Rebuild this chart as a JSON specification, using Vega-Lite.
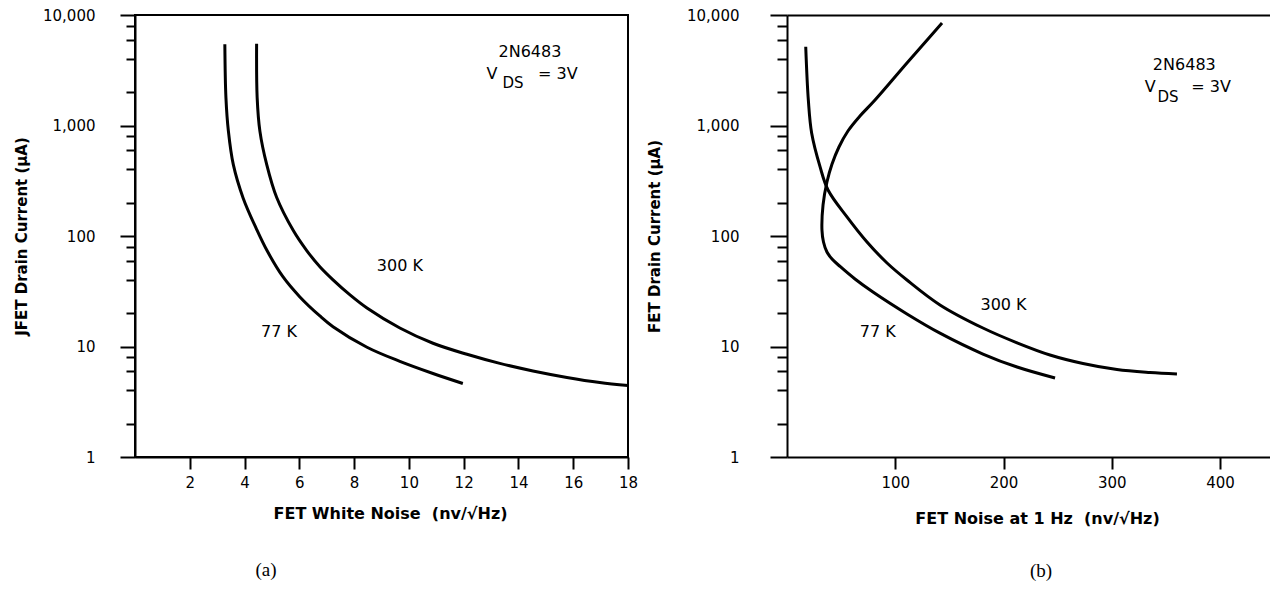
{
  "$schema": "https://vega.github.io/schema/vega-lite/v6.json",
  "padding": {"left": 13, "top": 7, "right": 0, "bottom": 0},
  "spacing": 159,
  "bounds": "flush",
  "background": "white",
  "config": {
    "view": {"stroke": null},
    "font": "DejaVu Sans",
    "axis": {
      "grid": false,
      "domainColor": "black",
      "domainWidth": 2,
      "tickColor": "black",
      "tickWidth": 2,
      "labelColor": "black",
      "labelFont": "DejaVu Sans",
      "labelFontSize": 15,
      "labelFlush": false,
      "labelOverlap": false,
      "titleFont": "DejaVu Sans",
      "titleFontSize": 15,
      "titleFontWeight": "bold",
      "titleColor": "black"
    }
  },
  "datasets": {
    "a_lines": [
      {"T": "77 K", "i": 1, "x": 3.28, "y": 5445},
      {"T": "77 K", "i": 2, "x": 3.32, "y": 1790},
      {"T": "77 K", "i": 3, "x": 3.41, "y": 890},
      {"T": "77 K", "i": 4, "x": 3.59, "y": 442},
      {"T": "77 K", "i": 5, "x": 3.95, "y": 220},
      {"T": "77 K", "i": 6, "x": 4.44, "y": 115},
      {"T": "77 K", "i": 7, "x": 4.82, "y": 73.8},
      {"T": "77 K", "i": 8, "x": 5.4, "y": 42.8},
      {"T": "77 K", "i": 9, "x": 6.02, "y": 28.1},
      {"T": "77 K", "i": 10, "x": 6.75, "y": 18.9},
      {"T": "77 K", "i": 11, "x": 7.23, "y": 15.1},
      {"T": "77 K", "i": 12, "x": 8.47, "y": 9.85},
      {"T": "77 K", "i": 13, "x": 9.67, "y": 7.34},
      {"T": "77 K", "i": 14, "x": 10.88, "y": 5.7},
      {"T": "77 K", "i": 15, "x": 11.97, "y": 4.63},
      {"T": "300 K", "i": 1, "x": 4.44, "y": 5480},
      {"T": "300 K", "i": 2, "x": 4.46, "y": 1790},
      {"T": "300 K", "i": 3, "x": 4.56, "y": 890},
      {"T": "300 K", "i": 4, "x": 4.81, "y": 442},
      {"T": "300 K", "i": 5, "x": 5.17, "y": 224},
      {"T": "300 K", "i": 6, "x": 5.78, "y": 112},
      {"T": "300 K", "i": 7, "x": 6.27, "y": 73.8},
      {"T": "300 K", "i": 8, "x": 6.75, "y": 52.7},
      {"T": "300 K", "i": 9, "x": 7.23, "y": 40.1},
      {"T": "300 K", "i": 10, "x": 7.85, "y": 29.3},
      {"T": "300 K", "i": 11, "x": 8.47, "y": 22.3},
      {"T": "300 K", "i": 12, "x": 9.67, "y": 14.7},
      {"T": "300 K", "i": 13, "x": 10.88, "y": 10.7},
      {"T": "300 K", "i": 14, "x": 12.12, "y": 8.5},
      {"T": "300 K", "i": 15, "x": 13.32, "y": 7.03},
      {"T": "300 K", "i": 16, "x": 14.53, "y": 6.01},
      {"T": "300 K", "i": 17, "x": 15.77, "y": 5.25},
      {"T": "300 K", "i": 18, "x": 16.97, "y": 4.72},
      {"T": "300 K", "i": 19, "x": 18, "y": 4.43}
    ],
    "a_text": [
      {"text": "2N6483", "x": 14.42, "y": 4600},
      {"text": "V", "x": 13.03, "y": 2950},
      {"text": "= 3V", "x": 15.44, "y": 2900},
      {"text": "300 K", "x": 9.67, "y": 53.8},
      {"text": "77 K", "x": 5.26, "y": 13.5}
    ],
    "a_sub": [
      {"text": "DS", "x": 13.8, "y": 2400}
    ],
    "b_lines": [
      {"T": "300 K", "i": 1, "x": 17.3, "y": 5165},
      {"T": "300 K", "i": 2, "x": 19.7, "y": 1702},
      {"T": "300 K", "i": 3, "x": 22.8, "y": 850},
      {"T": "300 K", "i": 4, "x": 30.5, "y": 424},
      {"T": "300 K", "i": 5, "x": 37.9, "y": 261},
      {"T": "300 K", "i": 6, "x": 55.4, "y": 149},
      {"T": "300 K", "i": 7, "x": 73.9, "y": 88.3},
      {"T": "300 K", "i": 8, "x": 92.4, "y": 57},
      {"T": "300 K", "i": 9, "x": 110.8, "y": 40},
      {"T": "300 K", "i": 10, "x": 141.3, "y": 23.8},
      {"T": "300 K", "i": 11, "x": 181, "y": 14.7},
      {"T": "300 K", "i": 12, "x": 212.5, "y": 10.8},
      {"T": "300 K", "i": 13, "x": 242.9, "y": 8.38},
      {"T": "300 K", "i": 14, "x": 273.4, "y": 7.02},
      {"T": "300 K", "i": 15, "x": 304.8, "y": 6.19},
      {"T": "300 K", "i": 16, "x": 335.3, "y": 5.82},
      {"T": "300 K", "i": 17, "x": 360.2, "y": 5.64},
      {"T": "77 K", "i": 1, "x": 143.2, "y": 8470},
      {"T": "77 K", "i": 2, "x": 110.8, "y": 3680},
      {"T": "77 K", "i": 3, "x": 81.3, "y": 1702},
      {"T": "77 K", "i": 4, "x": 67.4, "y": 1219},
      {"T": "77 K", "i": 5, "x": 56.3, "y": 892},
      {"T": "77 K", "i": 6, "x": 48.0, "y": 639},
      {"T": "77 K", "i": 7, "x": 41.6, "y": 448},
      {"T": "77 K", "i": 8, "x": 36.9, "y": 308},
      {"T": "77 K", "i": 9, "x": 33.3, "y": 191},
      {"T": "77 K", "i": 10, "x": 32.3, "y": 113},
      {"T": "77 K", "i": 11, "x": 33.7, "y": 88.3},
      {"T": "77 K", "i": 12, "x": 36.9, "y": 71.6},
      {"T": "77 K", "i": 13, "x": 41.6, "y": 61.9},
      {"T": "77 K", "i": 14, "x": 49.3, "y": 52.7},
      {"T": "77 K", "i": 15, "x": 62.8, "y": 40.8},
      {"T": "77 K", "i": 16, "x": 79.4, "y": 31.1},
      {"T": "77 K", "i": 17, "x": 110.8, "y": 19.7},
      {"T": "77 K", "i": 18, "x": 141.3, "y": 13.2},
      {"T": "77 K", "i": 19, "x": 181, "y": 8.55},
      {"T": "77 K", "i": 20, "x": 212.5, "y": 6.52},
      {"T": "77 K", "i": 21, "x": 247.6, "y": 5.19}
    ],
    "b_text": [
      {"text": "2N6483", "x": 367, "y": 3530},
      {"text": "V", "x": 335.5, "y": 2230},
      {"text": "= 3V", "x": 391.7, "y": 2230},
      {"text": "300 K", "x": 200, "y": 23.8},
      {"text": "77 K", "x": 83.9, "y": 13.5}
    ],
    "b_sub": [
      {"text": "DS", "x": 352, "y": 1810}
    ]
  },
  "hconcat": [
    {
      "width": 493,
      "height": 442,
      "title": {"text": "(a)", "orient": "bottom", "frame": "group", "anchor": "start", "align": "center", "dx": 131, "offset": 40, "font": "Liberation Serif", "fontSize": 19, "fontWeight": "normal", "color": "black"},
      "view": {"stroke": "black", "strokeWidth": 2},
      "layer": [
        {
          "data": {"name": "a_lines"},
          "mark": {"type": "line", "color": "black", "strokeWidth": 3, "interpolate": "catmull-rom"},
          "encoding": {
            "x": {"field": "x", "type": "quantitative", "scale": {"domain": [0, 18], "nice": false, "zero": false},
              "axis": {"values": [2, 4, 6, 8, 10, 12, 14, 16, 18], "tickSize": 12, "labelPadding": 6, "titlePadding": 15, "titleFontSize": 16, "titleX": 255, "title": "FET White Noise\u00a0\u00a0(nv/√Hz)"}},
            "y": {"field": "y", "type": "quantitative", "scale": {"type": "log", "domain": [1, 10000], "nice": false},
              "axis": {"values": [1, 2, 4, 6, 8, 10, 20, 40, 60, 80, 100, 200, 400, 600, 800, 1000, 2000, 4000, 6000, 8000, 10000],
                "labelExpr": "indexof([1, 10, 100, 1000, 10000], datum.value) >= 0 ? format(datum.value, ',') : ''",
                "tickSize": {"condition": {"test": "indexof([1, 10, 100, 1000, 10000], datum.value) >= 0", "value": 15}, "value": 9},
                "labelPadding": 25, "titlePadding": 13, "title": "JFET Drain Current (μA)"}},
            "detail": {"field": "T"},
            "order": {"field": "i", "type": "quantitative"}
          }
        },
        {
          "data": {"name": "a_text"},
          "mark": {"type": "text", "font": "DejaVu Sans", "fontSize": 16, "color": "black", "align": "center", "baseline": "middle"},
          "encoding": {
            "x": {"field": "x", "type": "quantitative"},
            "y": {"field": "y", "type": "quantitative"},
            "text": {"field": "text"}
          }
        },
        {
          "data": {"name": "a_sub"},
          "mark": {"type": "text", "font": "DejaVu Sans", "fontSize": 15, "color": "black", "align": "center", "baseline": "middle"},
          "encoding": {
            "x": {"field": "x", "type": "quantitative"},
            "y": {"field": "y", "type": "quantitative"},
            "text": {"field": "text"}
          }
        }
      ]
    },
    {
      "width": 485,
      "height": 442,
      "title": {"text": "(b)", "orient": "bottom", "frame": "group", "anchor": "start", "align": "center", "dx": 254, "offset": 36, "font": "Liberation Serif", "fontSize": 19, "fontWeight": "normal", "color": "black"},
      "view": {"stroke": null},
      "resolve": {"axis": {"x": "independent"}},
      "layer": [
        {
          "data": {"name": "b_lines"},
          "mark": {"type": "line", "color": "black", "strokeWidth": 3, "interpolate": "catmull-rom"},
          "encoding": {
            "x": {"field": "x", "type": "quantitative", "scale": {"domain": [0, 448], "nice": false, "zero": false},
              "axis": {"values": [100, 200, 300, 400], "tickSize": 12, "labelPadding": 6, "titlePadding": 20, "titleFontSize": 16, "titleX": 250, "title": "FET Noise at 1 Hz\u00a0\u00a0(nv/√Hz)"}},
            "y": {"field": "y", "type": "quantitative", "scale": {"type": "log", "domain": [1, 10000], "nice": false},
              "axis": {"values": [1, 2, 4, 6, 8, 10, 20, 40, 60, 80, 100, 200, 400, 600, 800, 1000, 2000, 4000, 6000, 8000, 10000],
                "labelExpr": "indexof([1, 10, 100, 1000, 10000], datum.value) >= 0 ? format(datum.value, ',') : ''",
                "tickSize": {"condition": {"test": "indexof([1, 10, 100, 1000, 10000], datum.value) >= 0", "value": 17}, "value": 10},
                "labelPadding": 31, "titlePadding": 24, "title": "FET Drain Current (μA)"}},
            "detail": {"field": "T"},
            "order": {"field": "i", "type": "quantitative"}
          }
        },
        {
          "data": {"name": "b_text"},
          "mark": {"type": "text", "font": "DejaVu Sans", "fontSize": 16, "color": "black", "align": "center", "baseline": "middle"},
          "encoding": {
            "x": {"field": "x", "type": "quantitative", "axis": {"orient": "top", "labels": false, "ticks": false, "domain": true, "title": null, "domainWidth": 2, "domainColor": "black"}},
            "y": {"field": "y", "type": "quantitative"},
            "text": {"field": "text"}
          }
        },
        {
          "data": {"name": "b_sub"},
          "mark": {"type": "text", "font": "DejaVu Sans", "fontSize": 15, "color": "black", "align": "center", "baseline": "middle"},
          "encoding": {
            "x": {"field": "x", "type": "quantitative", "axis": null},
            "y": {"field": "y", "type": "quantitative"},
            "text": {"field": "text"}
          }
        }
      ]
    }
  ]
}
